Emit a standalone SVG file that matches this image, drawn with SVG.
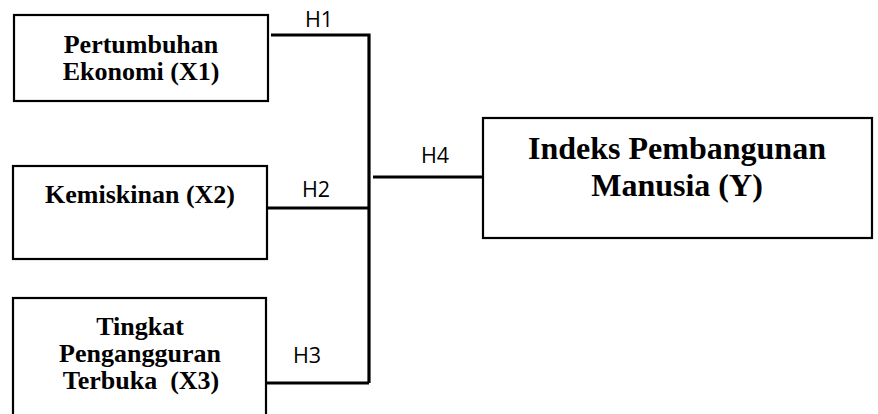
<svg xmlns="http://www.w3.org/2000/svg" width="878" height="414" viewBox="0 0 878 414">
  <style>
    .box { fill: #ffffff; stroke: #000000; stroke-width: 2.2; }
    .lbl { font-family: "Liberation Serif", "Times New Roman", serif; font-weight: bold; fill: #000000; text-anchor: middle; }
    .hyp { font-family: "Open Sans", "Liberation Sans", sans-serif; font-size: 21.5px; fill: #000000; }
    .wire { fill: none; stroke: #000000; stroke-width: 3.2; stroke-linejoin: miter; }
  </style>
  <rect width="878" height="414" fill="#ffffff"/>

  <!-- connectors: each variable joins the shared bus, which leads to Y -->
  <g id="connectors">
    <path class="wire" d="M271,35 H369 V383"/>
    <path class="wire" d="M268,208 H369"/>
    <path class="wire" d="M265,383 H369"/>
    <path class="wire" d="M373,177 H482"/>
    <text class="hyp" x="305" y="27">H1</text>
    <text class="hyp" x="302" y="197">H2</text>
    <text class="hyp" x="293" y="363">H3</text>
    <text class="hyp" x="421" y="163">H4</text>
  </g>

  <g id="x1">
    <rect class="box" x="14" y="15" width="254" height="86"/>
    <text class="lbl" font-size="26" x="141" y="53">Pertumbuhan</text>
    <text class="lbl" font-size="26" x="141" y="80">Ekonomi (X1)</text>
  </g>

  <g id="x2">
    <rect class="box" x="13" y="166" width="254" height="93"/>
    <text class="lbl" font-size="26" x="140" y="203">Kemiskinan (X2)</text>
  </g>

  <g id="x3">
    <rect class="box" x="13" y="298" width="253" height="124"/>
    <text class="lbl" font-size="26" x="140" y="335">Tingkat</text>
    <text class="lbl" font-size="26" x="140" y="362">Pengangguran</text>
    <text class="lbl" font-size="26" x="141" y="389" xml:space="preserve">Terbuka  (X3)</text>
  </g>

  <g id="y">
    <rect class="box" x="483" y="118" width="389" height="120"/>
    <text class="lbl" font-size="32" x="677" y="159">Indeks Pembangunan</text>
    <text class="lbl" font-size="32" x="677" y="196">Manusia (Y)</text>
  </g>
</svg>
